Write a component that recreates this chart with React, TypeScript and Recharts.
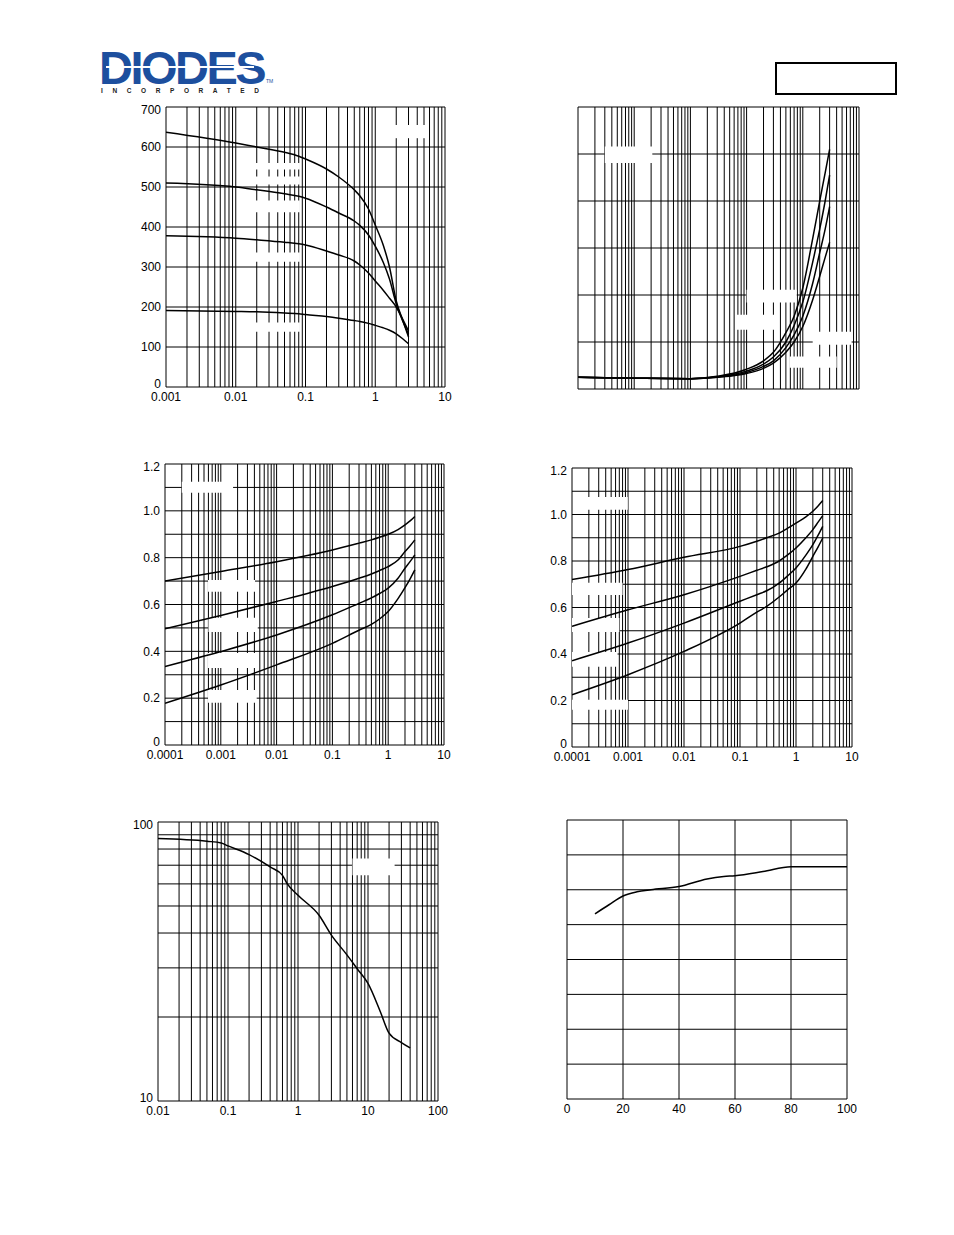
import React from "react";
import { LineChart, Line, XAxis, YAxis, ReferenceLine, ReferenceArea } from "recharts";

const FONT = '"Liberation Sans", Arial, Helvetica, sans-serif';

// ---- chart 1 (top left) ----
const c1X = [0.001, 0.01, 0.02, 0.05, 0.08, 0.1, 0.2, 0.3, 0.5, 0.6, 0.8, 1, 1.3, 1.6, 2, 2.5, 3];
const c1A = [637, 610, 600, 587, 577, 570, 545, 525, 493, 478, 445, 405, 355, 300, 215, 165, 125];
const c1B = [510, 500, 493, 483, 477, 472, 450, 435, 415, 404, 380, 352, 312, 270, 208, 163, 132];
const c1C = [378, 372, 368, 362, 358, 355, 340, 330, 315, 305, 285, 265, 242, 222, 200, 168, 140];
const c1D = [191, 189, 188, 185, 183, 181, 176, 172, 166, 164, 159, 154, 148, 142, 133, 120, 108];
const c1XTicks = [0.001, 0.01, 0.1, 1, 10];
const c1YTicks = [0, 100, 200, 300, 400, 500, 600, 700];

// ---- chart 2 (top right) ----
const c2X = [0.0001, 0.001, 0.01, 0.03, 0.1, 0.2, 0.3, 0.5, 0.7, 1, 1.5, 2, 2.5, 3];
const c2A = [0.25, 0.23, 0.22, 0.27, 0.42, 0.6, 0.78, 1.2, 1.55, 2.15, 3.2, 4.0, 4.6, 5.1];
const c2B = [0.25, 0.23, 0.22, 0.26, 0.38, 0.53, 0.68, 1.0, 1.35, 1.85, 2.7, 3.4, 4.0, 4.55];
const c2C = [0.25, 0.23, 0.22, 0.25, 0.35, 0.48, 0.6, 0.88, 1.15, 1.55, 2.25, 2.9, 3.4, 3.88];
const c2D = [0.25, 0.23, 0.22, 0.25, 0.33, 0.44, 0.55, 0.78, 1.0, 1.33, 1.9, 2.4, 2.8, 3.12];

// ---- chart 3 (middle left) ----
const c3X = [0.0001, 0.001, 0.01, 0.1, 0.3, 0.5, 0.7, 1, 1.5, 2, 2.5, 3];
const c3A = [0.7, 0.741, 0.783, 0.833, 0.862, 0.876, 0.887, 0.9, 0.92, 0.94, 0.958, 0.976];
const c3B = [0.496, 0.553, 0.613, 0.677, 0.712, 0.73, 0.745, 0.762, 0.79, 0.826, 0.852, 0.876];
const c3C = [0.335, 0.399, 0.47, 0.556, 0.605, 0.628, 0.647, 0.67, 0.712, 0.755, 0.785, 0.812];
const c3D = [0.178, 0.256, 0.342, 0.434, 0.49, 0.515, 0.538, 0.57, 0.625, 0.672, 0.712, 0.748];

// ---- chart 4 (middle right) ----
const c4X = [0.0001, 0.001, 0.01, 0.1, 0.2, 0.3, 0.5, 0.7, 1, 1.5, 2, 2.5, 3];
const c4A = [0.72, 0.763, 0.816, 0.863, 0.885, 0.9, 0.92, 0.94, 0.963, 0.99, 1.014, 1.038, 1.06];
const c4B = [0.519, 0.59, 0.655, 0.734, 0.76, 0.775, 0.8, 0.825, 0.856, 0.9, 0.935, 0.968, 0.995];
const c4C = [0.371, 0.447, 0.533, 0.627, 0.655, 0.672, 0.705, 0.735, 0.77, 0.825, 0.87, 0.912, 0.949];
const c4D = [0.225, 0.311, 0.411, 0.533, 0.58, 0.605, 0.645, 0.675, 0.705, 0.765, 0.82, 0.862, 0.899];

const midXTicks = [0.0001, 0.001, 0.01, 0.1, 1, 10];
const midYTicks = [0, 0.2, 0.4, 0.6, 0.8, 1.0, 1.2];

// ---- chart 5 (bottom left) ----
const c5X = [0.01, 0.05, 0.08, 0.1, 0.2, 0.4, 0.6, 0.7, 1, 2, 3, 5, 7, 10, 15, 20, 30, 40];
const c5Y = [87.2, 85.3, 84.1, 82.1, 76.4, 69.0, 64.4, 60.1, 54.6, 46.3, 39.3, 33.4, 29.8, 26.4, 20.9, 17.5, 16.2, 15.5];
const c5XTicks = [0.01, 0.1, 1, 10, 100];
const c5YTicks = [10, 100];

// ---- chart 6 (bottom right) ----
const c6X = [10, 15, 20, 25, 30, 40, 50, 56, 60, 70, 80, 100];
const c6Y = [5.31, 5.57, 5.82, 5.94, 6.0, 6.09, 6.31, 6.38, 6.4, 6.52, 6.66, 6.66];
const c6XTicks = [0, 20, 40, 60, 80, 100];

// white patches where the original labels were removed: [x1, x2, y1, y2]
const c1Boxes = [
  [1.9, 5.2, 622, 655],
  [0.0195, 0.083, 544, 560],
  [0.0195, 0.083, 506, 526],
  [0.0195, 0.083, 437, 466],
  [0.0195, 0.083, 313, 336],
  [0.0195, 0.083, 138, 161],
];
const c2Boxes = [
  [0.0003, 0.0021, 4.81, 5.16],
  [0.1, 0.78, 1.84, 2.11],
  [0.066, 0.34, 1.26, 1.58],
  [1.5, 7.4, 0.94, 1.22],
  [0.58, 4.0, 0.45, 0.69],
];
const c3Boxes = [
  [0.0002, 0.00166, 1.077, 1.124],
  [0.00059, 0.0041, 0.654, 0.705],
  [0.0006, 0.0046, 0.483, 0.543],
  [0.00059, 0.0046, 0.329, 0.393],
  [0.00059, 0.0044, 0.18, 0.235],
];
const c4Boxes = [
  [0.000126, 0.00099, 1.02, 1.075],
  [0.0001, 0.0008, 0.654, 0.706],
  [0.0001, 0.0007, 0.495, 0.555],
  [0.0001, 0.00065, 0.345, 0.409],
  [0.0001, 0.001, 0.16, 0.203],
];
const c5Boxes = [[6, 24, 64.5, 74]];

const logGrid = (lo: number, hi: number) => {
  const out: number[] = [];
  for (let d = lo; d < hi * 0.999; d *= 10) {
    for (let k = 1; k <= 9; k++) out.push(+(k * d).toPrecision(4));
  }
  out.push(hi);
  return out;
};
const linGrid = (lo: number, hi: number, step: number) => {
  const out: number[] = [];
  for (let v = lo; v <= hi + step / 1000; v += step) out.push(+v.toFixed(4));
  return out;
};

const rows = (xs: number[], ...series: number[][]) =>
  xs.map((x, i) => {
    const r: any = { x };
    series.forEach((s, j) => (r["s" + j] = s[i]));
    return r;
  });

const tickStyle = { fill: "#000", fontSize: 12, fontFamily: FONT };

function Panel(props: any) {
  const {
    left, top, w, h, data, keys,
    xDomain, xLog, xTicks, xFmt, showX,
    yDomain, yLog, yTicks, yFmt, showY,
    xGrid, yGrid, boxes,
  } = props;
  const yAxisW = 40, topM = 8, rightM = 14, xAxisH = 22;

  // end labels sit a little inside the frame, as in the original
  const yTick = (p: any) => {
    const v = p.payload.value;
    const nudge = v === yDomain[0] ? -3 : v === yDomain[1] ? 3 : 0;
    return (
      <text
        x={p.x}
        y={p.y + nudge}
        dy="0.355em"
        textAnchor="end"
        fill="#000"
        fontSize={12}
        fontFamily={FONT}
      >
        {yFmt(v)}
      </text>
    );
  };

  return (
    <div style={{ position: "absolute", left: left - yAxisW, top: top - topM }}>
      <LineChart
        width={yAxisW + w + rightM}
        height={topM + h + xAxisH}
        data={data}
        margin={{ top: topM, right: rightM, left: showY ? 0 : yAxisW, bottom: showX ? 0 : xAxisH }}
      >
        <XAxis
          dataKey="x"
          type="number"
          scale={xLog ? "log" : "linear"}
          domain={xDomain}
          ticks={xTicks}
          allowDataOverflow
          hide={!showX}
          height={xAxisH}
          axisLine={false}
          tickLine={false}
          tickSize={3}
          tickMargin={2}
          interval={0}
          tick={tickStyle}
          tickFormatter={xFmt}
        />
        <YAxis
          type="number"
          scale={yLog ? "log" : "linear"}
          domain={yDomain}
          ticks={yTicks}
          allowDataOverflow
          hide={!showY}
          width={yAxisW}
          axisLine={false}
          tickLine={false}
          tickSize={3}
          tickMargin={2}
          interval={0}
          tick={yTick}
        />
        {xGrid.map((v: number) => (
          <ReferenceLine key={"gx" + v} x={v} stroke="#000" strokeWidth={1} zIndex={100} />
        ))}
        {yGrid.map((v: number) => (
          <ReferenceLine key={"gy" + v} y={v} stroke="#000" strokeWidth={1} zIndex={100} />
        ))}
        {boxes.map((b: number[], i: number) => (
          <ReferenceArea
            key={"b" + i}
            x1={b[0]}
            x2={b[1]}
            y1={b[2]}
            y2={b[3]}
            fill="#fff"
            fillOpacity={1}
            stroke="none"
            zIndex={200}
          />
        ))}
        {keys.map((k: string) => (
          <Line
            key={k}
            dataKey={k}
            type="monotone"
            stroke="#000"
            strokeWidth={1.5}
            dot={false}
            activeDot={false}
            isAnimationActive={false}
          />
        ))}
      </LineChart>
    </div>
  );
}

const fmtPlain = (v: number) => String(v);
const fmtOne = (v: number) => (v === 0 ? "0" : v.toFixed(1));

export default function App() {
  const four = ["s0", "s1", "s2", "s3"];
  return (
    <div style={{ position: "absolute", left: 0, top: 0, width: 954, height: 1235, background: "#fff", fontFamily: FONT }}>
      {/* logo */}
      <div
        style={{
          position: "absolute", left: 99, top: 51, fontSize: 47, lineHeight: "34px",
          fontWeight: 700, color: "#1d4f9e", letterSpacing: -2.5, whiteSpace: "nowrap",
        }}
      >
        DIODES
      </div>
      <div style={{ position: "absolute", left: 106, top: 66, width: 148, height: 2, background: "#fff" }} />
      <div style={{ position: "absolute", left: 266, top: 79, fontSize: 5, lineHeight: "5px", color: "#1d4f9e" }}>TM</div>
      <div
        style={{
          position: "absolute", left: 101, top: 87, fontSize: 6.5, fontWeight: 700,
          color: "#222", lineHeight: "7px", letterSpacing: 9.6, whiteSpace: "nowrap",
        }}
      >
        INCORPORATED
      </div>
      <div
        style={{
          position: "absolute", left: 775, top: 62, width: 122, height: 33,
          border: "2px solid #000", boxSizing: "border-box",
        }}
      />

      <Panel
        left={166} top={107} w={279} h={280}
        data={rows(c1X, c1A, c1B, c1C, c1D)} keys={four}
        xDomain={[0.001, 10]} xLog xTicks={c1XTicks} xFmt={fmtPlain} showX
        yDomain={[0, 700]} yTicks={c1YTicks} yFmt={fmtPlain} showY
        xGrid={logGrid(0.001, 10)} yGrid={c1YTicks} boxes={c1Boxes}
      />
      <Panel
        left={578} top={107} w={281} h={282}
        data={rows(c2X, c2A, c2B, c2C, c2D)} keys={four}
        xDomain={[0.0001, 10]} xLog xTicks={midXTicks} xFmt={fmtPlain} showX={false}
        yDomain={[0, 6]} yTicks={[0, 1, 2, 3, 4, 5, 6]} yFmt={fmtPlain} showY={false}
        xGrid={logGrid(0.0001, 10)} yGrid={linGrid(0, 6, 1)} boxes={c2Boxes}
      />
      <Panel
        left={165} top={464} w={279} h={281}
        data={rows(c3X, c3A, c3B, c3C, c3D)} keys={four}
        xDomain={[0.0001, 10]} xLog xTicks={midXTicks} xFmt={fmtPlain} showX
        yDomain={[0, 1.2]} yTicks={midYTicks} yFmt={fmtOne} showY
        xGrid={logGrid(0.0001, 10)} yGrid={linGrid(0, 1.2, 0.1)} boxes={c3Boxes}
      />
      <Panel
        left={572} top={468} w={280} h={279}
        data={rows(c4X, c4A, c4B, c4C, c4D)} keys={four}
        xDomain={[0.0001, 10]} xLog xTicks={midXTicks} xFmt={fmtPlain} showX
        yDomain={[0, 1.2]} yTicks={midYTicks} yFmt={fmtOne} showY
        xGrid={logGrid(0.0001, 10)} yGrid={linGrid(0, 1.2, 0.1)} boxes={c4Boxes}
      />
      <Panel
        left={158} top={822} w={280} h={279}
        data={rows(c5X, c5Y)} keys={["s0"]}
        xDomain={[0.01, 100]} xLog xTicks={c5XTicks} xFmt={fmtPlain} showX
        yDomain={[10, 100]} yLog yTicks={c5YTicks} yFmt={fmtPlain} showY
        xGrid={logGrid(0.01, 100)} yGrid={logGrid(10, 100)} boxes={c5Boxes}
      />
      <Panel
        left={567} top={820} w={280} h={279}
        data={rows(c6X, c6Y)} keys={["s0"]}
        xDomain={[0, 100]} xTicks={c6XTicks} xFmt={fmtPlain} showX
        yDomain={[0, 8]} yTicks={[0, 8]} yFmt={fmtPlain} showY={false}
        xGrid={linGrid(0, 100, 20)} yGrid={linGrid(0, 8, 1)} boxes={[]}
      />
    </div>
  );
}
